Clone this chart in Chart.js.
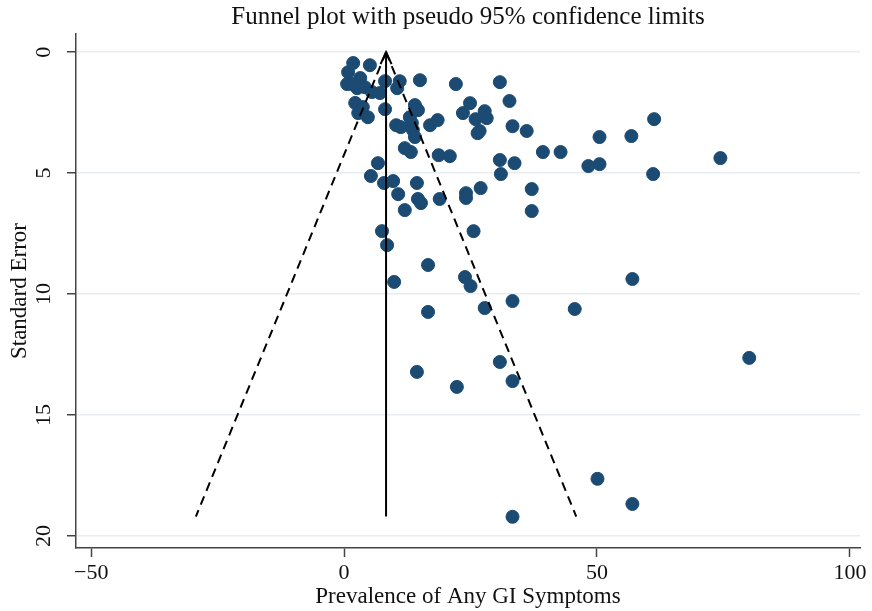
<!DOCTYPE html>
<html>
<head>
<meta charset="utf-8">
<script src="https://cdn.jsdelivr.net/npm/chart.js@4/dist/chart.umd.min.js"></script>
<style>
  html, body { margin: 0; padding: 0; background: #fff; }
  #wrap { width: 872px; height: 611px; }
</style>
</head>
<body>
<div id="wrap"><canvas id="funnel"></canvas></div>
<script>
// ---- Data ----
const studyPrev = [
  1.8, 0.8, 5.1, 3.2, 1.6, 0.6, 2.6, 4.1, 5.5, 7.1, 8.1, 11.0, 10.5, 15.0, 22.1, 30.8,
  2.2, 2.8, 4.7, 3.7, 8.1, 10.3, 11.2, 13.0, 14.0, 14.6, 13.4, 13.6, 14.0, 12.0, 13.2,
  17.0, 18.5, 24.9, 23.5, 26.0, 27.8, 28.2, 26.4, 26.8, 32.7, 33.3, 36.1, 18.7, 20.9,
  6.7, 5.3, 30.8, 33.7, 31.0, 39.3, 42.8, 50.5, 56.8, 61.3, 48.3, 50.5, 61.1, 74.4,
  7.9, 9.7, 10.7, 14.4, 14.6, 15.2, 12.0, 18.9, 24.1, 24.1, 27.0, 37.1, 37.1,
  7.5, 8.5, 25.6, 16.6, 9.9, 23.9, 25.0, 57.0, 33.3, 16.6, 27.8, 45.6,
  80.1, 30.8, 14.4, 22.3, 33.3, 50.1, 57.0, 33.3
];
const studySE = [
  0.45, 0.83, 0.54, 1.07, 1.32, 1.32, 1.49, 1.45, 1.65, 1.69, 1.2, 1.2, 1.49, 1.16, 1.32, 1.24,
  2.1, 2.52, 2.69, 2.27, 2.36, 3.02, 3.1, 2.69, 2.19, 2.4, 2.93, 3.22, 3.51, 3.97, 4.13,
  3.02, 2.81, 2.11, 2.52, 2.77, 2.44, 2.73, 3.35, 3.26, 2.02, 3.06, 3.26, 4.26, 4.3,
  4.59, 5.12, 4.46, 4.59, 5.04, 4.13, 4.13, 3.51, 3.47, 2.77, 4.71, 4.63, 5.04, 4.38,
  5.41, 5.33, 5.87, 5.41, 6.07, 6.24, 6.53, 6.07, 5.83, 6.03, 5.62, 5.66, 6.57,
  7.4, 7.98, 7.4, 8.8, 9.5, 9.3, 9.67, 9.38, 10.29, 10.74, 10.58, 10.62,
  12.64, 12.81, 13.22, 13.84, 13.6, 17.64, 18.68, 19.21
];

// pseudo 95% limits: top (se 0) and bottom (se max) ends
const limitSE = [0, 19.2];
const centerLine = [8.3, 8.3];
const lowerLimit = [8.3, -29.3];
const upperLimit = [8.3, 45.9];

const xTicks = [-50, 0, 50, 100];
const yTicks = [0, 5, 10, 15, 20];

const dotColor = '#1b4a73';
const serif = '"Liberation Serif", "Times New Roman", serif';

const pairs = (xs, ys) => xs.map((x, i) => ({ x, y: ys[i] }));

// open arrowhead at the top of the centre line
const arrowHead = {
  id: 'arrowHead',
  afterDatasetsDraw(chart) {
    const { ctx, scales: { x, y } } = chart;
    const px = x.getPixelForValue(centerLine[0]);
    const py = y.getPixelForValue(limitSE[0]);
    ctx.save();
    ctx.strokeStyle = '#000';
    ctx.lineWidth = 2;
    ctx.beginPath();
    ctx.moveTo(px - 5.5, py + 12);
    ctx.lineTo(px, py);
    ctx.lineTo(px + 5.5, py + 12);
    ctx.stroke();
    ctx.restore();
  }
};

new Chart(document.getElementById('funnel'), {
  type: 'scatter',
  data: {
    datasets: [
      {
        label: 'Studies',
        data: pairs(studyPrev, studySE),
        backgroundColor: dotColor,
        borderColor: dotColor,
        pointRadius: 6.5,
        pointHoverRadius: 6.5,
        order: 2
      },
      {
        label: 'Pooled',
        data: pairs(centerLine, limitSE),
        showLine: true,
        borderColor: '#000',
        borderWidth: 2,
        pointRadius: 0,
        order: 0
      },
      {
        label: 'Lower limit',
        data: pairs(lowerLimit, limitSE),
        showLine: true,
        borderColor: '#000',
        borderWidth: 2,
        borderDash: [9, 6],
        pointRadius: 0,
        order: 0
      },
      {
        label: 'Upper limit',
        data: pairs(upperLimit, limitSE),
        showLine: true,
        borderColor: '#000',
        borderWidth: 2,
        borderDash: [9, 6],
        pointRadius: 0,
        order: 0
      }
    ]
  },
  options: {
    responsive: true,
    maintainAspectRatio: false,
    animation: false,
    layout: { padding: { top: 0, right: 12, bottom: 0, left: 0 } },
    plugins: {
      legend: { display: false },
      tooltip: { enabled: false },
      title: {
        display: true,
        fullSize: false,
        text: 'Funnel plot with pseudo 95% confidence limits',
        color: '#111',
        font: { family: serif, size: 25, weight: 'normal', lineHeight: 1.2 },
        padding: { top: 2, bottom: 2 }
      }
    },
    scales: {
      x: {
        type: 'linear',
        min: -53,
        max: 102,
        afterBuildTicks: s => { s.ticks = xTicks.map(v => ({ value: v })); },
        afterFit: s => { s.height = 63; },
        border: { color: '#444', width: 1.5 },
        grid: { drawOnChartArea: false, tickColor: '#444', tickLength: 9, tickWidth: 1.5 },
        ticks: {
          color: '#111',
          font: { family: serif, size: 22 },
          padding: 3,
          maxRotation: 0,
          callback: v => String(v).replace('-', '\u2212')
        },
        title: {
          display: true,
          text: 'Prevalence of Any GI Symptoms',
          color: '#111',
          font: { family: serif, size: 23 },
          padding: { top: 0, bottom: 0 }
        }
      },
      y: {
        type: 'linear',
        reverse: true,
        min: -0.75,
        max: 20.5,
        afterBuildTicks: s => { s.ticks = yTicks.map(v => ({ value: v })); },
        afterFit: s => { s.width = 76; },
        border: { color: '#444', width: 1.5 },
        grid: { color: '#e8edf1', lineWidth: 1.5, tickColor: '#444', tickLength: 9, tickWidth: 1.5 },
        ticks: {
          color: '#111',
          font: { family: serif, size: 22 },
          padding: 12,
          crossAlign: 'center',
          minRotation: 90,
          maxRotation: 90
        },
        title: {
          display: true,
          text: 'Standard Error',
          color: '#111',
          font: { family: serif, size: 23 },
          padding: { top: 6, bottom: 0 }
        }
      }
    }
  },
  plugins: [arrowHead]
});
</script>
</body>
</html>
